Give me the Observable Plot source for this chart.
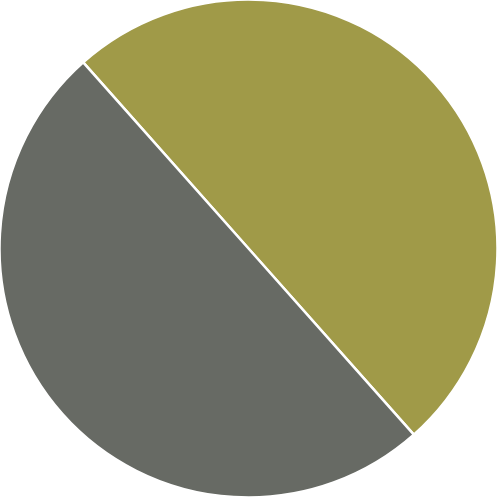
<!DOCTYPE html>
<html><head>
<meta charset="utf-8">
<script src="https://cdn.jsdelivr.net/npm/d3@7"></script>
<script src="https://cdn.jsdelivr.net/npm/@observablehq/plot@0.6"></script>
<style>html,body{margin:0;padding:0;background:#fff}</style>
</head><body><div id="chart"></div>
<script>
const labels = ["A", "B"];
const values = [50, 50];
const colors = ["#a09a48", "#676a64"];
const startDeg = -41.6;

const data = labels.map((l, i) => ({label: l, value: values[i]}));
const a0 = startDeg * Math.PI / 180;
const arcs = d3.pie().value(d => d.value).sort(null).startAngle(a0).endAngle(a0 + 2 * Math.PI)(data);

const chart = Plot.plot({
  width: 500,
  height: 500,
  marginTop: 0,
  marginLeft: 0,
  marginRight: 3,
  marginBottom: 3,
  x: {domain: [-1, 1], axis: null},
  y: {domain: [-1, 1], axis: null},
  color: {domain: labels, range: colors},
  marks: [
    Plot.dot(arcs, {
      x: () => 0,
      y: () => 0,
      fill: d => d.data.label,
      render: (index, scales, vals) => {
        const cx = scales.x(0), cy = scales.y(0);
        const r = scales.x(1) - scales.x(0);
        const arc = d3.arc().innerRadius(0).outerRadius(r + 0.5);
        const g = d3.create("svg:g").attr("transform", `translate(${cx},${cy})`);
        for (const i of index) {
          g.append("path")
            .attr("d", arc(arcs[i]))
            .attr("fill", vals.fill[i])
            .attr("stroke", "#fff")
            .attr("stroke-width", 2.5)
            .attr("stroke-linejoin", "round");
        }
        return g.node();
      }
    })
  ]
});
document.getElementById("chart").append(chart);
</script>
</body></html>
